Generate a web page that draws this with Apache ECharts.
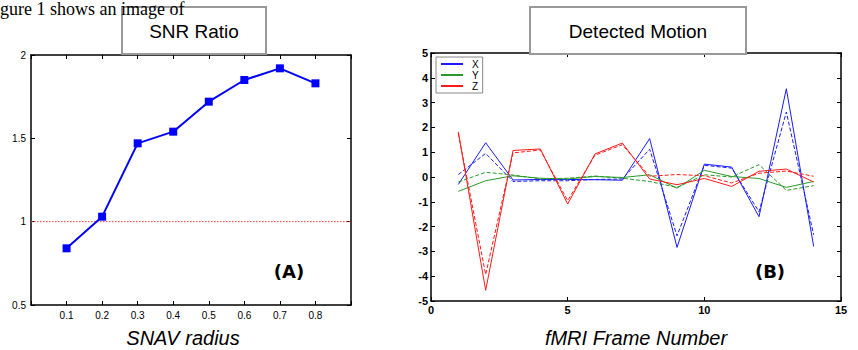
<!DOCTYPE html>
<html><head><meta charset="utf-8">
<script src="https://cdn.jsdelivr.net/npm/echarts@6/dist/echarts.min.js"></script>
<style>html,body{margin:0;padding:0;background:#fff;overflow:hidden}#c{width:858px;height:350px}</style>
</head><body><div id="c"></div>
<script>
// Left chart (A): SNR Ratio vs SNAV radius
const snavRadius = [0.1, 0.2, 0.3, 0.4, 0.5, 0.6, 0.7, 0.8];
const snrRatio   = [0.84, 1.03, 1.47, 1.54, 1.72, 1.85, 1.92, 1.83];
const snrReference = 1;
const radiusRange = [0, 0.9];

// Right chart (B): Detected motion per fMRI frame
const frames  = [1, 2, 3, 4, 5, 6, 7, 8, 9, 10, 11, 12, 13, 14];
const xSolid  = [-0.3, 1.38, -0.12, -0.1, -0.1, -0.11, -0.13, 1.55, -2.84, 0.52, 0.4, -1.6, 3.56, -2.8];
const xDashed = [0.1, 0.95, -0.18, -0.15, -0.15, -0.1, -0.08, 1.12, -2.37, 0.47, 0.36, -1.4, 2.62, -2.33];
const ySolid  = [-0.58, -0.15, 0.05, -0.05, -0.08, 0.02, -0.02, 0.09, -0.45, 0.27, 0.02, -0.06, -0.42, -0.18];
const yDashed = [-0.2, 0.19, 0.08, -0.08, -0.05, 0.04, -0.05, -0.18, -0.42, 0.09, 0.0, 0.5, -0.54, -0.35];
const zSolid  = [1.82, -4.57, 1.07, 1.13, -1.09, 0.93, 1.37, -0.08, -0.31, -0.06, -0.38, 0.23, 0.32, -0.2];
const zDashed = [1.75, -3.93, 0.97, 1.09, -0.95, 0.88, 1.3, 0.03, 0.1, 0.05, -0.24, 0.15, 0.24, 0.03];

const leftYTicks = [0.5, 1, 1.5, 2];
const rightXTicks = [0, 5, 10, 15];

const chart = echarts.init(document.getElementById('c'), null, {renderer: 'svg'});
const pair = (xs, ys) => xs.map((x, i) => [x, ys[i]]);
const lbl = {color: '#000', fontSize: 10, fontFamily: 'Liberation Sans, Arial'};
const lineAx = {show: true, onZero: false, lineStyle: {color: '#000', width: 1.5}};
const tickIn = {show: true, inside: true, length: 4, lineStyle: {color: '#000'}};

function lineSeries(name, ys, color, dashed) {
  return {
    name: name, type: 'line', xAxisIndex: 2, yAxisIndex: 2,
    data: pair(frames, ys), symbol: 'none', silent: true, animation: false,
    lineStyle: {color: color, width: 1, type: dashed ? [4, 2] : 'solid'},
    itemStyle: {color: color}, z: 3
  };
}

chart.setOption({
  animation: false,
  backgroundColor: '#fff',
  grid: [
    {left: 31, top: 55, width: 320, height: 250},
    {left: 431, top: 53, width: 410, height: 248}
  ],
  xAxis: [
    {gridIndex: 0, type: 'value', min: radiusRange[0], max: radiusRange[1], interval: 0.1, position: 'bottom',
     axisLine: lineAx, axisTick: tickIn, splitLine: {show: false},
     axisLabel: Object.assign({}, lbl, {margin: 5, formatter: v => (v > 0.05 && v < 0.85) ? v.toFixed(1) : ''})},
    {gridIndex: 0, type: 'value', min: radiusRange[0], max: radiusRange[1], interval: 0.1, position: 'top',
     axisLine: lineAx, axisTick: tickIn, splitLine: {show: false}, axisLabel: {show: false}},
    {gridIndex: 1, type: 'value', min: 0, max: 15, interval: 5, position: 'bottom',
     axisLine: lineAx, axisTick: tickIn, splitLine: {show: false},
     axisLabel: Object.assign({}, lbl, {fontSize: 11, fontWeight: 'bold', margin: 3, formatter: v => rightXTicks.includes(v) ? String(v) : ''})},
    {gridIndex: 1, type: 'value', min: 0, max: 15, interval: 5, position: 'top',
     axisLine: lineAx, axisTick: tickIn, splitLine: {show: false}, axisLabel: {show: false}}
  ],
  yAxis: [
    {gridIndex: 0, type: 'value', min: 0.5, max: 2, interval: 0.5, position: 'left',
     axisLine: lineAx, axisTick: tickIn, splitLine: {show: false},
     axisLabel: Object.assign({}, lbl, {margin: 5, formatter: v => leftYTicks.includes(v) ? String(v) : ''})},
    {gridIndex: 0, type: 'value', min: 0.5, max: 2, interval: 0.5, position: 'right',
     axisLine: lineAx, axisTick: tickIn, splitLine: {show: false}, axisLabel: {show: false}},
    {gridIndex: 1, type: 'value', min: -5, max: 5, interval: 1, position: 'left',
     axisLine: lineAx, axisTick: tickIn, splitLine: {show: false},
     axisLabel: Object.assign({}, lbl, {fontSize: 11, fontWeight: 'bold', margin: 3})},
    {gridIndex: 1, type: 'value', min: -5, max: 5, interval: 1, position: 'right',
     axisLine: lineAx, axisTick: tickIn, splitLine: {show: false}, axisLabel: {show: false}}
  ],
  legend: {
    data: ['X', 'Y', 'Z'], orient: 'vertical', left: 436, top: 57,
    padding: [2, 4, 2, 5], itemGap: 1, itemWidth: 22, itemHeight: 2, icon: 'rect',
    backgroundColor: '#fff', borderColor: '#888', borderWidth: 1,
    textStyle: {fontSize: 10, color: '#000', fontFamily: 'Liberation Sans, Arial', lineHeight: 10, padding: [0, 0, 0, 4]},
    selectedMode: false, z: 10
  },
  series: [
    {name: 'ref', type: 'line', xAxisIndex: 0, yAxisIndex: 0, silent: true,
     data: radiusRange.map(x => [x, snrReference]), symbol: 'none',
     lineStyle: {color: '#ff3b3b', width: 1, type: [1.5, 1.5]}, itemStyle: {color: '#ff3b3b'}, z: 2},
    {name: 'SNR', type: 'line', xAxisIndex: 0, yAxisIndex: 0,
     data: pair(snavRadius, snrRatio), symbol: 'rect', symbolSize: 8,
     lineStyle: {color: '#0000ff', width: 2}, itemStyle: {color: '#0000ff'}, z: 3},
    lineSeries('X', xSolid, '#1a1aff', false),
    lineSeries('X ', xDashed, '#1a1aff', true),
    lineSeries('Y', ySolid, '#2a9a2a', false),
    lineSeries('Y ', yDashed, '#2a9a2a', true),
    lineSeries('Z', zSolid, '#ff1a1a', false),
    lineSeries('Z ', zDashed, '#ff1a1a', true)
  ],
  graphic: [
    {type: 'rect', shape: {x: 122, y: 7, width: 144, height: 47}, z: 20,
     style: {fill: '#fff', stroke: '#999', lineWidth: 2}},
    {type: 'text', x: 194, y: 31, z: 21,
     style: {text: 'SNR Ratio', font: '19px "Liberation Sans", Arial, sans-serif', fill: '#000', align: 'center', verticalAlign: 'middle'}},
    {type: 'text', left: 0, top: 0, z: 30,
     style: {text: 'gure 1 shows an image of', font: '18px "Liberation Serif", "Times New Roman", serif', fill: '#000'}},
    {type: 'rect', shape: {x: 530, y: 7, width: 216, height: 47}, z: 20,
     style: {fill: '#fff', stroke: '#999', lineWidth: 2}},
    {type: 'text', x: 638, y: 31, z: 21,
     style: {text: 'Detected Motion', font: '19px "Liberation Sans", Arial, sans-serif', fill: '#000', align: 'center', verticalAlign: 'middle'}},
    {type: 'text', x: 289, y: 271, z: 21,
     style: {text: '(A)', font: 'bold 18px "DejaVu Sans", sans-serif', fill: '#000', align: 'center', verticalAlign: 'middle'}},
    {type: 'text', x: 770, y: 271, z: 21,
     style: {text: '(B)', font: 'bold 18px "DejaVu Sans", sans-serif', fill: '#000', align: 'center', verticalAlign: 'middle'}},
    {type: 'text', x: 183, y: 338, z: 21,
     style: {text: 'SNAV radius', font: 'italic 20px "Liberation Sans", Arial, sans-serif', fill: '#000', align: 'center', verticalAlign: 'middle'}},
    {type: 'text', x: 636, y: 338, z: 21,
     style: {text: 'fMRI Frame Number', font: 'italic 20px "Liberation Sans", Arial, sans-serif', fill: '#000', align: 'center', verticalAlign: 'middle'}}
  ]
});
</script></body></html>
